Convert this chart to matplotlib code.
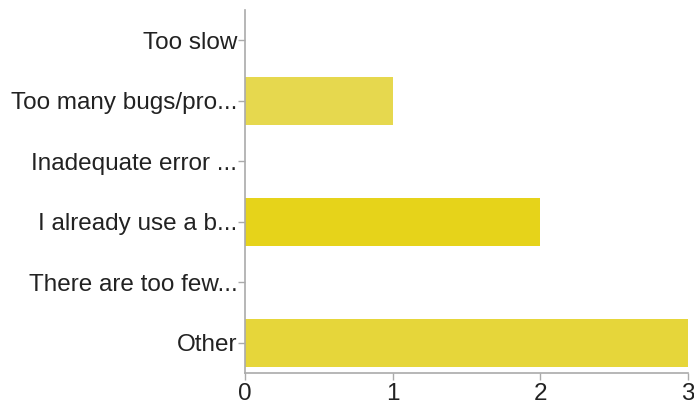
import matplotlib
matplotlib.use("Agg")
import matplotlib.pyplot as plt

categories = ['Too slow', 'Too many bugs/pro...', 'Inadequate error ...',
              'I already use a b...', 'There are too few...', 'Other']
counts = [0, 1, 0, 2, 0, 3]
colors = ['#e6d84e', '#e6d84e', '#e6d84e', '#e6d31a', '#e6d84e', '#e6d63a']
xticks = [0, 1, 2, 3]

plt.rcParams['font.family'] = ['Liberation Sans', 'DejaVu Sans']

fig = plt.figure(figsize=(6.94, 4.07), dpi=100)
ax = fig.add_axes([0.353, 0.0835, 0.638, 0.8915])

ypos = list(range(len(categories)))
ax.barh(ypos, counts, height=0.8, color=colors)

ax.set_ylim(len(categories) - 0.5, -0.5)
ax.set_xlim(0, 3)
ax.set_yticks(ypos)
ax.set_yticklabels(categories, fontsize=17.5, color='#222222')
ax.set_xticks(xticks)
ax.set_xticklabels([str(t) for t in xticks], fontsize=17.5, color='#222222')

for s in ['top', 'right']:
    ax.spines[s].set_visible(False)
for s in ['left', 'bottom']:
    ax.spines[s].set_color('#aaaaaa')
    ax.spines[s].set_linewidth(1.2)
ax.tick_params(axis='both', color='#aaaaaa', length=5, width=1)
ax.tick_params(axis='y', pad=0.5)
ax.tick_params(axis='x', pad=2)

fig.savefig('out.png', dpi=100)
